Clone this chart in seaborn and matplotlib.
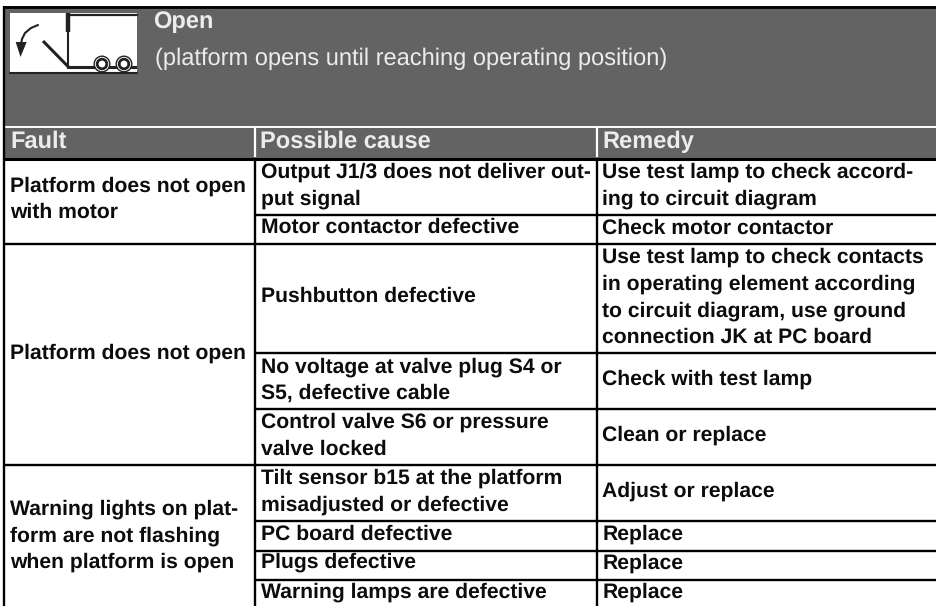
#%% dependencies
import numpy as np
import matplotlib.pyplot as plt
import seaborn as sns
from matplotlib.patches import Rectangle, Circle

#%% table text
title = 'Open'
subtitle = '(platform opens until reaching operating position)'
headers = ['Fault', 'Possible cause', 'Remedy']

faults = ['Platform does not open', 'with motor', 'Platform does not open',
          'Warning lights on plat-', 'form are not flashing', 'when platform is open']
causes = ['Output J1/3 does not deliver out-', 'put signal', 'Motor contactor defective',
          'Pushbutton defective', 'No voltage at valve plug S4 or', 'S5, defective cable',
          'Control valve S6 or pressure', 'valve locked', 'Tilt sensor b15 at the platform',
          'misadjusted or defective', 'PC board defective', 'Plugs defective',
          'Warning lamps are defective']
remedies = ['Use test lamp to check accord-', 'ing to circuit diagram', 'Check motor contactor',
            'Use test lamp to check contacts', 'in operating element according',
            'to circuit diagram, use ground', 'connection JK at PC board',
            'Check with test lamp', 'Clean or replace', 'Adjust or replace',
            'Replace', 'Replace', 'Replace']

#%% layout in pixels
fault_y = [192, 218, 359, 515, 542, 568]
cause_y = [178, 205, 233, 302, 373, 399, 428, 455, 484, 511, 540, 568, 598]
remedy_y = [178, 205, 234, 263, 290, 317, 343, 385, 441, 497, 540, 569, 598]
col_x = [4, 255, 597]
header_x = [10.5, 260, 602]
text_x = [10, 261, 603]
left_rules = [158.5, 244, 465]
right_rules = [158.5, 215, 243.5, 352.7, 409, 465, 521, 550.7, 580]

#%% figure
sns.set_theme(style='white')
plt.rcParams['font.family'] = ['Liberation Sans', 'DejaVu Sans']
plt.rcParams['text.hinting'] = 'no_hinting'
fig, ax = plt.subplots(figsize=(9.37, 6.06), dpi=100)
fig.subplots_adjust(0, 0, 1, 1)
ax.set_xlim(0, 937)
ax.set_ylim(606, 0)
ax.axis('off')
sns.despine(ax=ax, left=True, bottom=True)

grey = '#636363'
pale = '#ececec'
ink = '#0c0c0c'
fs = 15.2
fs_head = 17

# grey banner and header row
ax.add_patch(Rectangle((3, 6), 934, 152, color=grey, lw=0))
ax.hlines(7.3, 3, 937, color='black', lw=2.0)
ax.hlines(127, 3, 937, color='white', lw=1.4)
ax.hlines(158.5, 3, 937, color='black', lw=2.2)
ax.vlines(col_x[1:], 127, 157, color='white', lw=1.6)

# rules
ax.vlines(col_x, 158, 606, color='black', lw=1.7)
ax.vlines(col_x[0], 6, 158, color='black', lw=1.7)
ax.hlines(left_rules[1:], col_x[0], col_x[1], color='black', lw=1.7)
ax.hlines(right_rules[1:], col_x[1], 937, color='black', lw=1.7)

#%% icon
ax.add_patch(Rectangle((10, 13), 127.5, 59, color='white', lw=0, zorder=2))
ax.plot([10, 137.5], [73, 73], color='#222222', lw=1.5, zorder=3)
ax.plot([43, 69, 137], [41, 67.5, 67.5], color='#222222', lw=2.2, zorder=3,
        solid_capstyle='butt')
ax.plot([68.5, 68.5], [67.5, 15], color='#222222', lw=1.5, zorder=3)
ax.plot([67.8, 67.8], [13, 32], color='#222222', lw=3.2, zorder=3, solid_capstyle='butt')
ax.plot([69, 137], [15, 15], color='#222222', lw=1.6, zorder=3)
for cx in [102, 124]:
    ax.add_patch(Circle((cx, 64), 7.8, fc='white', ec='#222222', lw=1.0, zorder=4))
    ax.add_patch(Circle((cx, 64), 4.8, fc='white', ec='#222222', lw=2.0, zorder=4))
# curved arrow
ax.plot([38, 31, 25, 22, 21], [25, 28, 33, 39, 44], color='#222222', lw=1.5, zorder=4)
ax.fill([15.7, 26.7, 20.5], [42, 42, 57], color='#222222', lw=0, zorder=4)

#%% text
ax.text(153.5, 28, title, color=pale, fontsize=fs_head, fontweight='bold')
ax.text(155, 65, subtitle, color=pale, fontsize=fs_head)
for x, label in zip(header_x, headers):
    ax.text(x, 148, label, color=pale, fontsize=fs_head, fontweight='bold')

for lines, ys, x in [(faults, fault_y, text_x[0]),
                     (causes, cause_y, text_x[1]),
                     (remedies, remedy_y, text_x[2] - 0.5)]:
    for y, line in zip(ys, lines):
        ax.text(x, y, line, color=ink, fontsize=fs, fontweight='bold')

fig.savefig('out.png', dpi=100)
